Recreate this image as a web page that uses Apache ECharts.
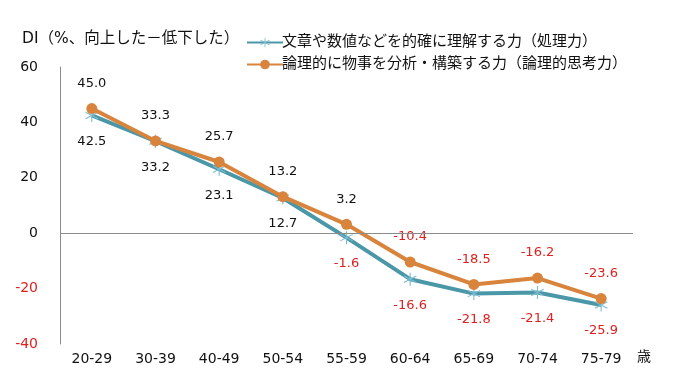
<!DOCTYPE html>
<html><head><meta charset="utf-8">
<script src="https://cdn.jsdelivr.net/npm/echarts@6/dist/echarts.min.js"></script>
<style>html,body{margin:0;padding:0;background:#fff}#c{width:675px;height:390px}</style>
</head><body><div id="c"></div>
<script>
const categories = ['20-29','30-39','40-49','50-54','55-59','60-64','65-69','70-74','75-79'];
const processing = [42.5, 33.2, 23.1, 12.7, -1.6, -16.6, -21.8, -21.4, -25.9];
const logical = [45.0, 33.3, 25.7, 13.2, 3.2, -10.4, -18.5, -16.2, -23.6];
const yTicks = [-40, -20, 0, 20, 40, 60];
const seriesNames = ['文章や数値などを的確に理解する力（処理力）', '論理的に物事を分析・構築する力（論理的思考力）'];

const FONT = 'DejaVu Sans, Noto Sans CJK JP, sans-serif';
const asterisk = 'path://M-0.8,-10 L0.8,-10 L0.8,10 L-0.8,10 Z M8.26,5.69 L9.06,4.31 L-8.26,-5.69 L-9.06,-4.31 Z M-8.26,5.69 L-9.06,4.31 L8.26,-5.69 L9.06,-4.31 Z';

function items(arr){
  return arr.map(v => ({value: v, label: {color: v < 0 ? '#e02020' : '#111'}}));
}

const chart = echarts.init(document.getElementById('c'), null, {renderer:'canvas'});
chart.setOption({
  animation: false,
  backgroundColor: '#fff',
  title: {
    text: 'DI（%、向上した－低下した）',
    left: 17, top: 26,
    textStyle: {fontFamily: FONT, fontSize: 15.5, fontWeight: 'normal', color: '#111'}
  },
  legend: {
    orient: 'vertical',
    left: 241, top: 30,
    itemWidth: 36, itemHeight: 12, itemGap: 7,
    textStyle: {fontFamily: FONT, fontSize: 15, color: '#111', padding: [0,0,0,-6]},
    data: seriesNames
  },
  grid: {left: 60, right: 42, top: 67, bottom: 46},
  xAxis: {
    type: 'category',
    data: categories,
    boundaryGap: true,
    axisLine: {show: false, onZero: false},
    axisTick: {show: false},
    axisLabel: {fontFamily: FONT, fontSize: 14, color: '#111', margin: 8},
    name: '歳',
    nameLocation: 'end',
    nameGap: 4,
    nameTextStyle: {fontFamily: FONT, fontSize: 14, color: '#111', verticalAlign: 'top', padding: [6,0,0,0]}
  },
  yAxis: {
    type: 'value',
    min: -40, max: 60, interval: 20,
    axisLine: {show: true, lineStyle: {color: '#8c8c8c', width: 1}},
    axisTick: {show: false},
    splitLine: {show: false},
    axisLabel: {
      fontFamily: FONT, fontSize: 14, margin: 22,
      color: v => (Number(v) < 0 ? '#e02020' : '#111'),
      formatter: v => (yTicks.includes(v) ? String(v) : '')
    }
  },
  series: [
    {
      name: seriesNames[0],
      type: 'line',
      data: items(processing),
      symbol: asterisk,
      symbolSize: 13,
      lineStyle: {color: '#4a97a8', width: 4},
      itemStyle: {color: '#7fbdd3'},
      label: {show: true, position: 'bottom', distance: 13, fontFamily: FONT, fontSize: 13,
        formatter: p => p.value.toFixed(1)},
      markLine: {
        silent: true, symbol: 'none', label: {show: false},
        lineStyle: {color: '#8c8c8c', width: 1, type: 'solid'},
        data: [{yAxis: 0}]
      },
      z: 2
    },
    {
      name: seriesNames[1],
      type: 'line',
      data: items(logical),
      symbol: 'circle',
      symbolSize: 11,
      lineStyle: {color: '#d9843c', width: 4},
      itemStyle: {color: '#d9843c'},
      label: {show: true, position: 'top', distance: 13, fontFamily: FONT, fontSize: 13,
        formatter: p => p.value.toFixed(1)},
      z: 3
    }
  ]
});
</script>
</body></html>
